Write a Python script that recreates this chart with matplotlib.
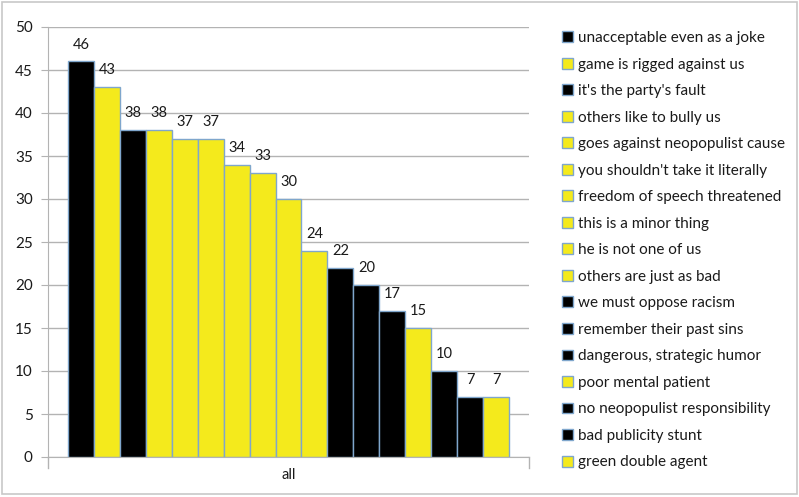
import matplotlib.pyplot as plt
from matplotlib.patches import Rectangle
import numpy as np

plt.rcParams['font.family'] = ['Lato', 'DejaVu Sans']

labels = ["unacceptable even as a joke", "game is rigged against us", "it's the party's fault",
          "others like to bully us", "goes against neopopulist cause", "you shouldn't take it literally",
          "freedom of speech threatened", "this is a minor thing", "he is not one of us",
          "others are just as bad", "we must oppose racism", "remember their past sins",
          "dangerous, strategic humor", "poor mental patient", "no neopopulist responsibility",
          "bad publicity stunt", "green double agent"]
values = [46, 43, 38, 38, 37, 37, 34, 33, 30, 24, 22, 20, 17, 15, 10, 7, 7]
dark = [1, 0, 1, 0, 0, 0, 0, 0, 0, 0, 1, 1, 1, 0, 1, 1, 0]
category = "all"

yellow = '#F4EA1C'
edge = '#7FA6CC'
grid = '#B3B3B3'
txt = '#1A1A1A'

fig = plt.figure(figsize=(7.99, 4.97), dpi=100)
fig.patches.append(Rectangle((0.002, 0.006), 0.996, 0.99, transform=fig.transFigure,
                             fill=False, edgecolor='#C8C8C8', lw=1.2))
ax = fig.add_axes([48 / 799, 40 / 497, 481 / 799, 430 / 497])

x = np.arange(len(values))
bars = []
for i, v in enumerate(values):
    b = ax.bar(x[i], v, width=1.0, color='black' if dark[i] else yellow,
               edgecolor=edge, linewidth=1.0, label=labels[i], zorder=3)
    bars.append(b)
    ax.annotate(str(v), (x[i], v), xytext=(0, 7), textcoords='offset points',
                ha='center', va='bottom', fontsize=10.5, color=txt)

ax.set_xlim(-0.5 - 0.77, len(values) - 0.5 + 0.77)
ax.set_ylim(0, 50)
ax.set_yticks(range(0, 51, 5))
ax.set_xticks([(len(values) - 1) / 2])
ax.set_xticklabels([category])
ax.tick_params(axis='x', length=0, labelsize=10.5, pad=8, labelcolor=txt)
ax.tick_params(axis='y', length=5, color=grid, labelsize=11, pad=6, labelcolor=txt)
ax.yaxis.grid(True, color=grid, lw=1, zorder=0)
ax.set_axisbelow(True)
for s in ['top', 'right']:
    ax.spines[s].set_visible(False)
ax.spines['left'].set_color(grid)
ax.spines['bottom'].set_color(grid)
# small end ticks on the category axis
ax.plot([1, 1], [0, -0.025], transform=ax.transAxes, color=grid, lw=1, clip_on=False)
ax.plot([0, 0], [0, -0.025], transform=ax.transAxes, color=grid, lw=1, clip_on=False)

leg = fig.legend(handles=bars, loc='upper left', bbox_to_anchor=(562 / 799, 1 - 31 / 497),
                 frameon=False, fontsize=11, handlelength=0.72, handleheight=0.72,
                 handletextpad=0.35, labelspacing=0.82, borderaxespad=0, borderpad=0)
for t in leg.get_texts():
    t.set_color(txt)

fig.savefig('out.png', dpi=100)
